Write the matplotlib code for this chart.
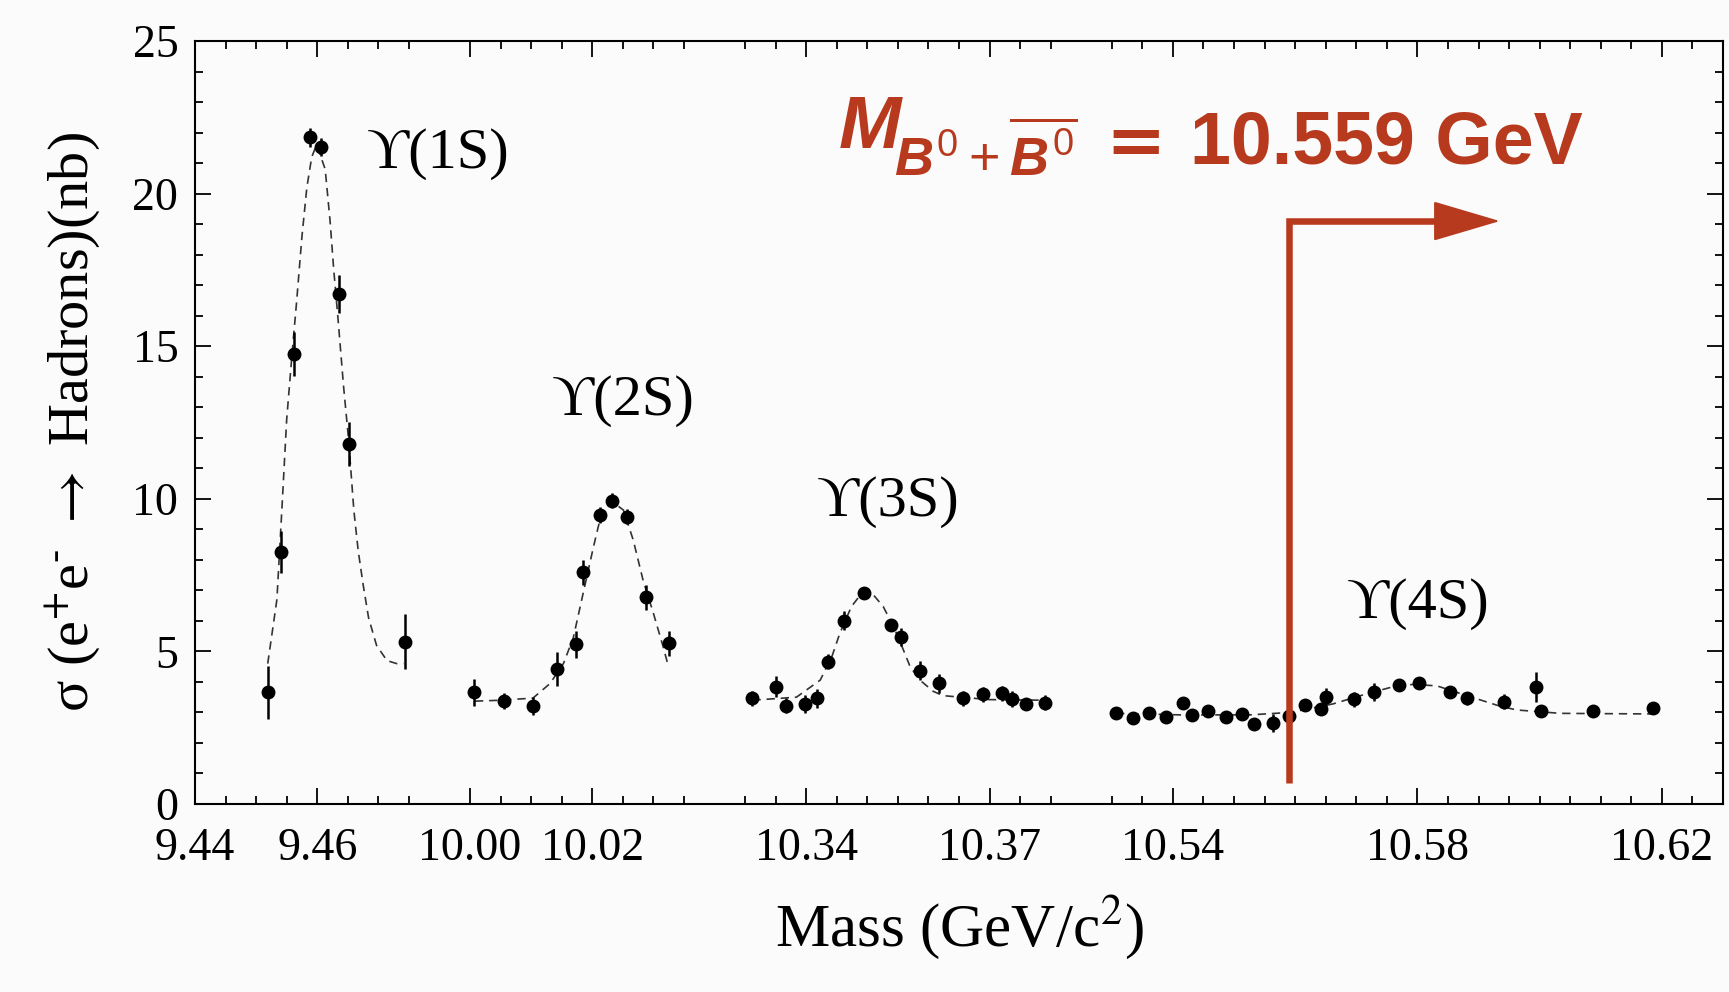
import numpy as np
import matplotlib
matplotlib.use('Agg')
import matplotlib.pyplot as plt
from matplotlib.ticker import FixedLocator, FormatStrFormatter, MultipleLocator

plt.rcParams['font.family'] = ['Liberation Serif', 'DejaVu Serif']
plt.rcParams['mathtext.fontset'] = 'custom'
plt.rcParams['mathtext.rm'] = 'Liberation Sans'
plt.rcParams['mathtext.it'] = 'Liberation Sans:italic:bold'
plt.rcParams['mathtext.bf'] = 'Liberation Sans:bold'

# --- measured cross sections (mass in GeV, sigma in nb) ---
m1 = [9.4520, 9.4541, 9.4562, 9.4588, 9.4606, 9.4636, 9.4652, 9.4743]
s1 = [3.66, 8.25, 14.74, 21.84, 21.52, 16.71, 11.80, 5.32]
e1 = [0.87, 0.68, 0.71, 0.30, 0.30, 0.63, 0.71, 0.90]

m2 = [10.0007, 10.0056, 10.0103, 10.0143, 10.0173, 10.0185, 10.0212, 10.0233,
      10.0256, 10.0288, 10.0325]
s2 = [3.66, 3.37, 3.22, 4.42, 5.24, 7.59, 9.47, 9.94, 9.41, 6.77, 5.26]
e2 = [0.44, 0.27, 0.30, 0.57, 0.44, 0.40, 0.25, 0.25, 0.25, 0.40, 0.40]

m3 = [10.3312, 10.3351, 10.3367, 10.3398, 10.3417, 10.3436, 10.3462, 10.3495,
      10.3538, 10.3555, 10.3586, 10.3618, 10.3657, 10.3689, 10.3720, 10.3736,
      10.3760, 10.3791]
s3 = [3.46, 3.84, 3.22, 3.28, 3.46, 4.66, 6.01, 6.92, 5.87, 5.48, 4.37, 3.95,
      3.46, 3.59, 3.63, 3.44, 3.28, 3.32]
e3 = [0.25, 0.35, 0.25, 0.30, 0.30, 0.25, 0.30, 0.15, 0.20, 0.30, 0.30, 0.30,
      0.25, 0.25, 0.25, 0.25, 0.20, 0.25]

m4 = [10.5307, 10.5334, 10.5361, 10.5389, 10.5416, 10.5431, 10.5457, 10.5487,
      10.5513, 10.5533, 10.5563, 10.5590, 10.5616, 10.5642, 10.5650, 10.5696,
      10.5729, 10.5770, 10.5802, 10.5853, 10.5881, 10.5941, 10.5994, 10.6003,
      10.6088, 10.6186]
s4 = [2.99, 2.81, 2.99, 2.84, 3.32, 2.92, 3.06, 2.84, 2.95, 2.62, 2.66, 2.88,
      3.24, 3.10, 3.50, 3.43, 3.68, 3.90, 3.97, 3.68, 3.46, 3.35, 3.84, 3.06,
      3.06, 3.14]
e4 = [0.20, 0.20, 0.20, 0.20, 0.20, 0.20, 0.20, 0.20, 0.20, 0.20, 0.30, 0.25,
      0.20, 0.20, 0.30, 0.25, 0.30, 0.20, 0.20, 0.20, 0.20, 0.25, 0.50, 0.20,
      0.20, 0.20]

# --- fitted line shapes ---
f1m = [9.4519, 9.4534, 9.4542, 9.4550, 9.4559, 9.4566, 9.4575, 9.4583, 9.4591,
       9.4599, 9.4613, 9.4621, 9.4627, 9.4634, 9.4643, 9.4651, 9.4660, 9.4667,
       9.4675, 9.4684, 9.4697, 9.4714, 9.4730, 9.4741]
f1s = [4.6, 6.7, 9.6, 12.6, 14.8, 16.4, 18.6, 20.2, 21.2, 21.6, 20.8, 19.1,
       17.5, 15.9, 13.7, 12.0, 9.6, 8.3, 7.2, 6.1, 5.2, 4.7, 4.6, 4.6]

f2m = [10.0008, 10.0050, 10.0103, 10.0131, 10.0153, 10.0169, 10.0185, 10.0202,
       10.0215, 10.0233, 10.0251, 10.0267, 10.0283, 10.0300, 10.0316, 10.0324]
f2s = [3.37, 3.40, 3.47, 3.95, 4.61, 5.45, 6.90, 8.43, 9.52, 9.90, 9.63, 8.65,
       7.34, 6.25, 5.15, 4.55]

f3m = [10.3312, 10.3384, 10.3423, 10.3442, 10.3455, 10.3474, 10.3493, 10.3510,
       10.3526, 10.3543, 10.3559, 10.3570, 10.3586, 10.3608, 10.3624, 10.3700,
       10.3793]
f3s = [3.40, 3.50, 4.06, 4.83, 5.59, 6.47, 6.96, 6.85, 6.47, 5.81, 5.05, 4.50,
       4.06, 3.69, 3.55, 3.42, 3.40]

f4m = [10.5307, 10.5412, 10.5526, 10.5592, 10.5662, 10.5712, 10.5756, 10.5793,
       10.5832, 10.5881, 10.5936, 10.5963, 10.6034, 10.6187]
f4s = [2.97, 2.92, 2.92, 3.00, 3.28, 3.58, 3.82, 3.92, 3.87, 3.55, 3.20, 3.08,
       2.97, 2.95]

resonances = ['(1S)', '(2S)', '(3S)', '(4S)']
res_label_pos = [(9.4798, 21.3), (10.0250, 13.2), (10.3534, 9.9), (10.5801, 6.55)]

major_ticks = [9.44, 9.46, 10.00, 10.02, 10.34, 10.37, 10.54, 10.58, 10.62]
b0_mass = 10.559

# the four mass windows, glued edge to edge on one axis
windows = [(9.44, 9.48), (9.995, 10.04), (10.325, 10.385), (10.525, 10.63)]
knots_m, knots_u = [], []
u = 0.0
for lo, hi in windows:
    knots_m += [lo, hi]
    knots_u += [u, u + (hi - lo)]
    u += (hi - lo) + 1e-7
knots_m = np.array(knots_m)
knots_u = np.array(knots_u)


def fwd(m):
    return np.interp(m, knots_m, knots_u)


def inv(x):
    return np.interp(x, knots_u, knots_m)


minor_ticks = []
for lo, hi in windows:
    for t in np.arange(lo + 0.005, hi - 0.001, 0.005):
        t = round(t, 3)
        if not any(abs(t - mt) < 1e-6 for mt in major_ticks):
            minor_ticks.append(t)

red = '#b83a1e'

fig = plt.figure(figsize=(17.29, 9.92), dpi=100)
fig.patch.set_facecolor('#fbfbfb')
ax = fig.add_axes([195 / 1729, 1 - 804 / 992, (1723 - 195) / 1729, (804 - 41) / 992])
ax.set_facecolor('#fbfbfb')
ax.set_xscale('function', functions=(fwd, inv))
ax.set_xlim(9.44, 10.63)
ax.set_ylim(0, 25)

for fm, fs in [(f1m, f1s), (f2m, f2s), (f3m, f3s), (f4m, f4s)]:
    ax.plot(fm, fs, ls=(0, (5, 3.5)), color='#333333', lw=1.2, zorder=2)

for m, s, e in [(m1, s1, e1), (m2, s2, e2), (m3, s3, e3), (m4, s4, e4)]:
    ax.errorbar(m, s, yerr=e, fmt='o', color='black', ms=9, elinewidth=1.8,
                capsize=0, zorder=3)

for name, (xm, ys) in zip(resonances, res_label_pos):
    ax.text(xm, ys, '\u03d2' + name, fontsize=42, ha='center', va='center')

# B0 B0bar threshold marker
ax.plot([b0_mass, b0_mass, 10.588], [0.7, 19.1, 19.1], color=red, lw=4.7,
        solid_joinstyle='miter', solid_capstyle='butt', zorder=4)
ax.annotate('', xy=(10.5935, 19.1), xytext=(10.582, 19.1),
            arrowprops=dict(arrowstyle='-|>,head_length=0.44,head_width=0.13',
                            mutation_scale=100, color=red, lw=1.5,
                            shrinkA=0, shrinkB=0), zorder=4)

red_kw = dict(color=red, math_fontfamily='custom', va='baseline')
t_m = ax.text(10.3452, 21.5, r'$M$', fontsize=54, ha='left', **red_kw)
t_sub = ax.annotate(r'$B^{0}+\overline{B^{0}}$', xy=(1, 0), xycoords=t_m,
                    xytext=(-7, -9), textcoords='offset points', fontsize=39,
                    **red_kw)
t_eq = ax.annotate('=', xy=(1, 0), xycoords=(t_sub, t_m), xytext=(20, 0),
                   textcoords='offset points', fontsize=52, fontweight='bold',
                   family=['DejaVu Sans'], **red_kw)
ax.annotate(f'{b0_mass:.3f} GeV', xy=(1, 0), xycoords=(t_eq, t_m),
            xytext=(18, 0), textcoords='offset points', fontsize=53,
            fontweight='bold', family=['Liberation Sans'], **red_kw)

ax.xaxis.set_major_locator(FixedLocator(major_ticks))
ax.xaxis.set_minor_locator(FixedLocator(minor_ticks))
ax.xaxis.set_major_formatter(FormatStrFormatter('%.2f'))
ax.yaxis.set_major_locator(MultipleLocator(5))
ax.yaxis.set_minor_locator(MultipleLocator(1))
ax.tick_params(which='both', direction='in', top=True, right=True, width=1.3,
               labelsize=33)
ax.tick_params(which='major', length=11.5)
ax.tick_params(which='minor', length=6)
ax.tick_params(axis='x', pad=17)
ax.tick_params(axis='y', pad=12)
for sp in ax.spines.values():
    sp.set_linewidth(1.5)

ax.set_xlabel('Mass (GeV/c$^{2}$)', fontsize=44, math_fontfamily='stix',
              labelpad=17)
ax.set_ylabel('\u03c3 (e$^{+}$e$^{\\text{-}}$ $\\rightarrow$ Hadrons)(nb)',
              fontsize=42, math_fontfamily='stix', labelpad=22)

fig.savefig('out.png', dpi=100, facecolor=fig.get_facecolor())
